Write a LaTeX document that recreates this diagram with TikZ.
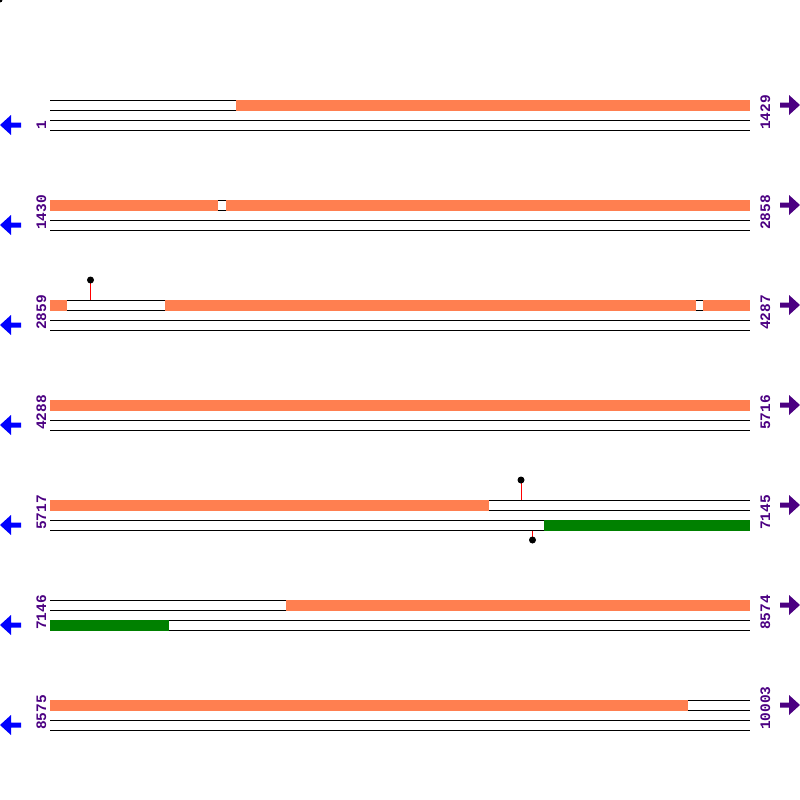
\documentclass[tikz,border=0pt]{standalone}
\usepackage{fontspec}
\setmonofont{Liberation Mono}
\definecolor{seqorange}{HTML}{FF7F50}
\definecolor{seqgreen}{HTML}{008000}
\definecolor{labpurple}{HTML}{4B0082}
\tikzset{
  strand/.style={draw=black, line width=1pt},
  featorange/.style={fill=seqorange},
  featgreen/.style={fill=seqgreen},
  poslab/.style={rotate=90, anchor=base west, inner sep=0pt, text=labpurple,
    font=\fontsize{14.5}{14.5}\selectfont\ttfamily\bfseries},
  pinline/.style={draw=red, line width=1pt},
  pinhead/.style={circle, fill=black, inner sep=0pt, minimum size=7pt},
  larrow/.style={fill=blue},
  rarrow/.style={fill=labpurple}
}
\begin{document}
\begin{tikzpicture}[x=1pt,y=-1pt]
\useasboundingbox (0,0) rectangle (800,800);
\fill[black] (0,0) circle (2.5);
% strands and arrows
\foreach \y in {100,200,300,400,500,600,700}{
  \foreach \d in {0,10,20,30}{
    \draw[strand] (50,\y+\d) -- (750,\y+\d);
  }
  \fill[larrow] (0,\y+25) -- (11,\y+15) -- (11,\y+22.5) -- (21,\y+22.5) -- (21,\y+27.5) -- (11,\y+27.5) -- (11,\y+35) -- cycle;
  \fill[rarrow] (800,\y+5) -- (789,\y-5) -- (789,\y+2.5) -- (780,\y+2.5) -- (780,\y+7.5) -- (789,\y+7.5) -- (789,\y+15) -- cycle;
}
% features (top strand)
\fill[featorange] (236,99.5) rectangle (750,110.5);
\fill[featorange] (50,199.5) rectangle (218,210.5);
\fill[featorange] (226,199.5) rectangle (750,210.5);
\fill[featorange] (50,299.5) rectangle (67,310.5);
\fill[featorange] (165,299.5) rectangle (696,310.5);
\fill[featorange] (703,299.5) rectangle (750,310.5);
\fill[featorange] (50,399.5) rectangle (750,410.5);
\fill[featorange] (50,499.5) rectangle (489,510.5);
\fill[featorange] (286,599.5) rectangle (750,610.5);
\fill[featorange] (50,699.5) rectangle (688,710.5);
% features (bottom strand)
\fill[featgreen] (544,519.5) rectangle (750,530.5);
\fill[featgreen] (50,619.5) rectangle (169,630.5);
% pins
\coordinate (pinAbase) at (90.5,300);
\coordinate (pinBbase) at (521,500);
\coordinate (pinCbase) at (532.5,530.5);
\draw[pinline] (pinAbase) -- (90.5,280);
\draw[pinline] (pinBbase) -- (521,480);
\draw[pinline] (pinCbase) -- (532.5,540);
\node[pinhead] (pinA) at (90.5,280) {};
\node[pinhead] (pinB) at (521,480) {};
\node[pinhead] (pinC) at (532.5,540) {};
% labels
\foreach \y/\l/\r in {100/1/1429, 200/1430/2858, 300/2859/4287, 400/4288/5716, 500/5717/7145, 600/7146/8574, 700/8575/10003}{
  \node[poslab] (L\y) at (46,\y+30) {\l};
  \node[poslab] (R\y) at (770,\y+30) {\r};
}
\end{tikzpicture}
\end{document}
